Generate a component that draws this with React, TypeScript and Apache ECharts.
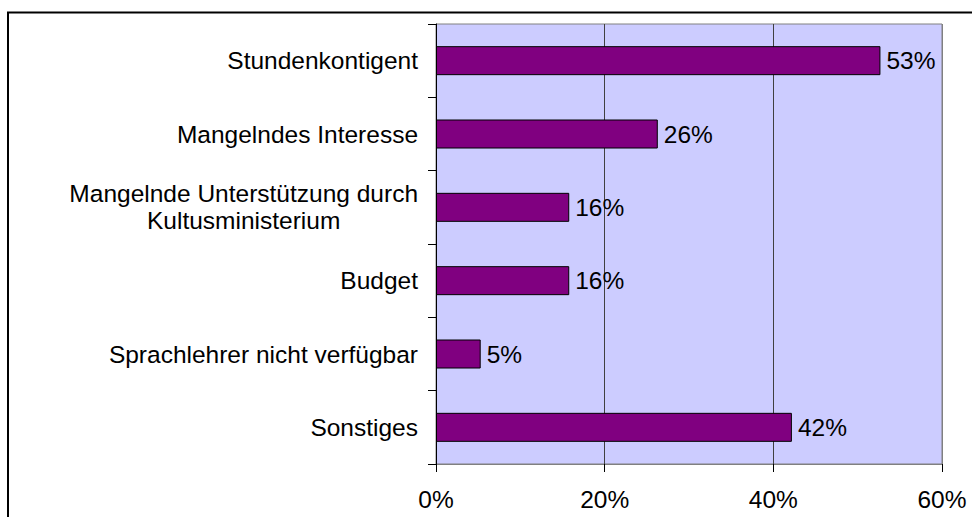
import React, { useEffect, useRef } from "react";
import * as echarts from "echarts";

const categories: string[] = [
  "Stundenkontigent",
  "Mangelndes Interesse",
  "Mangelnde Unterstützung durch\nKultusministerium",
  "Budget",
  "Sprachlehrer nicht verfügbar",
  "Sonstiges",
];
const values: number[] = [52.7, 26.3, 15.8, 15.8, 5.3, 42.2];
const labels: string[] = ["53%", "26%", "16%", "16%", "5%", "42%"];
const xTicks: number[] = [0, 20, 40, 60];

const FONT = "'Liberation Sans', Arial, sans-serif";
const FS = 24.5;

export default function App() {
  const ref = useRef<HTMLDivElement>(null);
  useEffect(() => {
    if (!ref.current) return;
    const chart = echarts.init(ref.current, null, { renderer: "svg" });
    chart.setOption({
      animation: false,
      backgroundColor: "#ffffff",
      textStyle: { fontFamily: FONT },
      graphic: [
        {
          type: "rect",
          shape: { x: 8, y: 12.5, width: 1100, height: 700 },
          style: { fill: "none", stroke: "#000000", lineWidth: 2 },
          silent: true,
        },
      ],
      grid: {
        left: 436,
        top: 24,
        right: 30,
        bottom: 53,
        show: true,
        backgroundColor: "#CCCCFF",
        borderColor: "#808080",
        borderWidth: 1,
      },
      xAxis: {
        type: "value",
        min: xTicks[0],
        max: xTicks[xTicks.length - 1],
        interval: 20,
        axisLine: { show: true, lineStyle: { color: "#808080", width: 1 } },
        axisTick: { show: true, length: 8, lineStyle: { color: "#000000" } },
        splitLine: {
          show: true,
          lineStyle: { color: ["#000000", "#404040", "#404040", "#808080"], width: 1 },
        },
        axisLabel: {
          formatter: "{value}%",
          color: "#000000",
          fontSize: FS,
          fontFamily: FONT,
          margin: 23,
        },
      },
      yAxis: {
        type: "category",
        inverse: true,
        data: categories,
        axisLine: { show: true, lineStyle: { color: "#000000", width: 1 } },
        axisTick: { show: true, length: 8, interval: 0, lineStyle: { color: "#000000" } },
        splitLine: { show: false },
        axisLabel: {
          interval: 0,
          margin: 18,
          color: "#000000",
          fontSize: FS,
          fontFamily: FONT,
          lineHeight: 27,
          formatter: (v: string) =>
            v
              .split("\n")
              .map((s) => "{c|" + s + "}")
              .join("\n"),
          rich: {
            c: {
              align: "center",
              fontSize: FS,
              fontFamily: FONT,
              color: "#000000",
              lineHeight: 27,
            },
          },
        },
      },
      series: [
        {
          type: "bar",
          data: values,
          barWidth: 29,
          itemStyle: { color: "#800080", borderColor: "#000000", borderWidth: 1 },
          label: {
            show: true,
            position: "right",
            distance: 6,
            color: "#000000",
            fontSize: FS,
            fontFamily: FONT,
            formatter: (p: any) => labels[p.dataIndex],
          },
        },
      ],
    });
    return () => chart.dispose();
  }, []);
  return (
    <div
      ref={ref}
      style={{ position: "fixed", left: 0, top: 0, width: 972, height: 517 }}
    />
  );
}
